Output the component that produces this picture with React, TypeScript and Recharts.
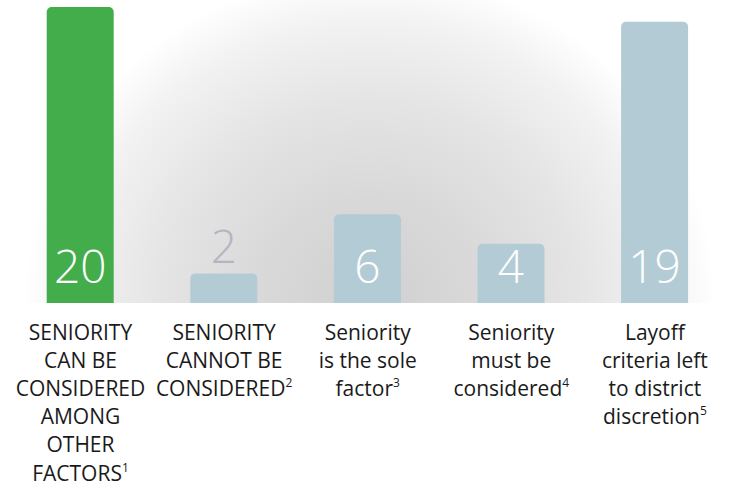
import React from "react";
import { BarChart, Bar, XAxis, YAxis, Cell, LabelList, ReferenceArea } from "recharts";

const categoryLines: string[][] = [
  ["SENIORITY", "CAN BE", "CONSIDERED", "AMONG", "OTHER", "FACTORS"],
  ["SENIORITY", "CANNOT BE", "CONSIDERED"],
  ["Seniority", "is the sole", "factor"],
  ["Seniority", "must be", "considered"],
  ["Layoff", "criteria left", "to district", "discretion"],
];
const footnotes: string[] = ["1", "2", "3", "4", "5"];
const values: number[] = [20, 2, 6, 4, 19];
const barColors: string[] = ["#43ad4b", "#b3cbd5", "#b3cbd5", "#b3cbd5", "#b3cbd5"];

const data = values.map((v, i) => ({ name: String(i), value: v }));

const FONT = "'Open Sans', 'Noto Sans', sans-serif";

const CategoryTick = (props: any) => {
  const { x, y, payload } = props;
  const idx = Number(payload.value);
  const lines = categoryLines[idx];
  return (
    <g>
      {lines.map((line, li) => {
        const last = li === lines.length - 1;
        return (
          <text
            key={li}
            x={x}
            y={y + 36.5 + li * 28.2}
            textAnchor="middle"
            fontFamily={FONT}
            fontSize={21}
            fill="#1a1a1a"
          >
            {line}
            {last ? (
              <tspan fontSize={12} dy={-9}>
                {footnotes[idx]}
              </tspan>
            ) : null}
          </text>
        );
      })}
    </g>
  );
};

const ValueLabel = (props: any) => {
  const { x, y, width, height, value } = props;
  const inside = height > 45;
  return (
    <text
      x={x + width / 2}
      y={inside ? y + height - 20 : y - 10}
      textAnchor="middle"
      fontFamily={FONT}
      fontWeight={300}
      fontSize={46}
      fill={inside ? "#ffffff" : "#b8b3c3"}
    >
      {value}
    </text>
  );
};

export default function App() {
  return (
    <div style={{ position: "fixed", top: 0, left: 0, width: 734, height: 487, background: "#fff", overflow: "hidden" }}>
      <svg width={0} height={0} style={{ position: "absolute" }}>
        <defs>
          <radialGradient
            id="bgGrad"
            gradientUnits="userSpaceOnUse"
            cx={370}
            cy={300}
            r={345}
            gradientTransform="translate(370 300) scale(1 0.95) translate(-370 -300)"
          >
            <stop offset="0" stopColor="#d0d0d0" />
            <stop offset="0.3" stopColor="#d8d8d8" />
            <stop offset="0.6" stopColor="#e4e4e4" />
            <stop offset="0.85" stopColor="#f2f2f2" />
            <stop offset="1" stopColor="#ffffff" />
          </radialGradient>
        </defs>
      </svg>
      <BarChart
        width={734}
        height={487}
        data={data}
        margin={{ top: 7, right: 7.3, bottom: 0, left: 8.7 }}
        barCategoryGap={0}
      >
        <YAxis hide domain={[0, 20]} type="number" allowDataOverflow />
        <XAxis
          dataKey="name"
          height={184}
          axisLine={false}
          tickLine={false}
          tickSize={0}
          tickMargin={0}
          interval={0}
          tick={<CategoryTick />}
        />
        <ReferenceArea y1={0} y2={20.5} ifOverflow="visible" fill="url(#bgGrad)" fillOpacity={1} stroke="none" />
        <Bar dataKey="value" barSize={67} radius={[5, 5, 0, 0]} isAnimationActive={false}>
          {data.map((_, i) => (
            <Cell key={i} fill={barColors[i]} />
          ))}
          <LabelList dataKey="value" content={<ValueLabel />} />
        </Bar>
      </BarChart>
    </div>
  );
}
